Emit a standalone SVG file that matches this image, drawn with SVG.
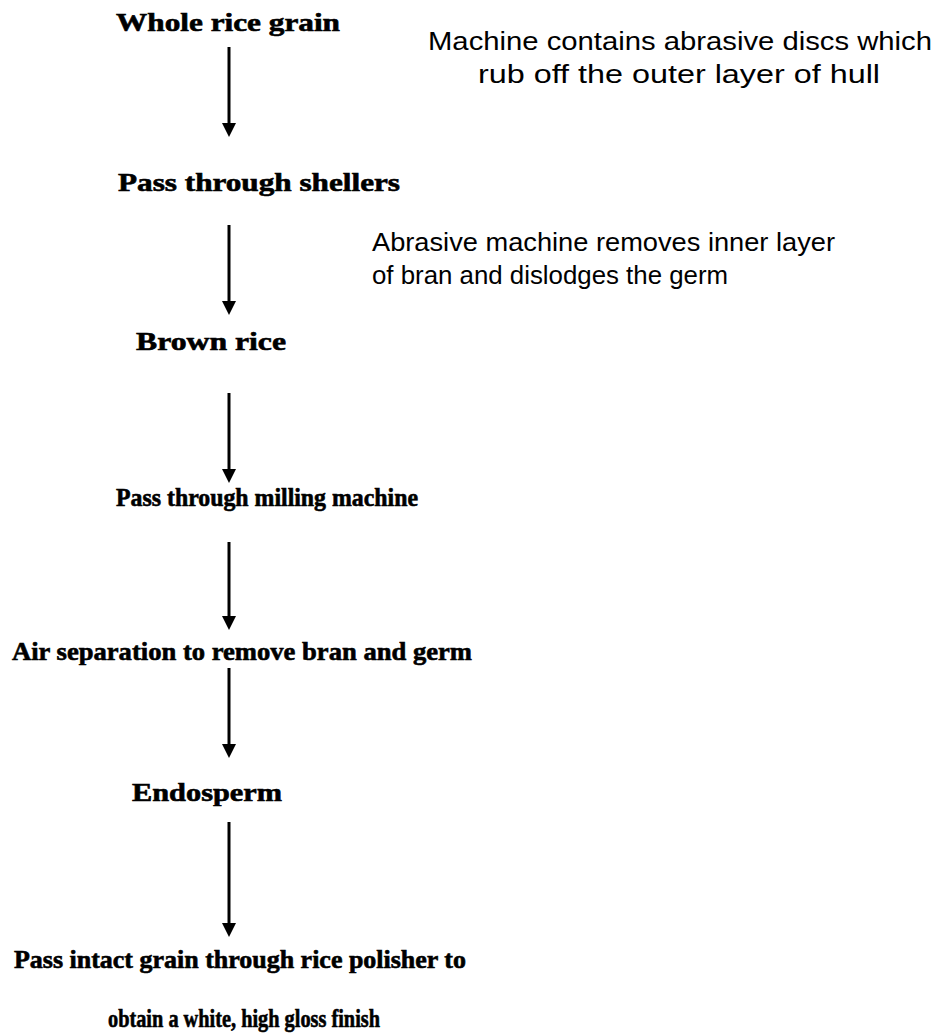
<svg xmlns="http://www.w3.org/2000/svg" width="944" height="1033" viewBox="0 0 944 1033">
<defs>
<style>
.step{font-family:"Liberation Serif","Times New Roman",serif;font-weight:bold;font-size:25px;fill:#000;stroke:#000;stroke-width:0.6}
.note{font-family:"Liberation Sans",Arial,sans-serif;font-size:25px;fill:#000}
.conn line{stroke:#000;stroke-width:3}
.conn path{fill:#000}
</style>
</defs>
<rect width="944" height="1033" fill="#fff"/>
<g id="n1"><text class="step" x="116" y="31" textLength="224" lengthAdjust="spacingAndGlyphs">Whole rice grain</text></g>
<g id="n2"><text class="step" x="118" y="191" textLength="282" lengthAdjust="spacingAndGlyphs">Pass through shellers</text></g>
<g id="n3"><text class="step" x="136" y="350" textLength="150" lengthAdjust="spacingAndGlyphs">Brown rice</text></g>
<g id="n4"><text class="step" x="116" y="506" textLength="302" lengthAdjust="spacingAndGlyphs">Pass through milling machine</text></g>
<g id="n5"><text class="step" x="12" y="660" textLength="460" lengthAdjust="spacingAndGlyphs">Air separation to remove bran and germ</text></g>
<g id="n6"><text class="step" x="132" y="801" textLength="150" lengthAdjust="spacingAndGlyphs">Endosperm</text></g>
<g id="n7"><text class="step" x="14" y="968" textLength="452" lengthAdjust="spacingAndGlyphs">Pass intact grain through rice polisher to</text>
<text class="step" x="108" y="1027" textLength="272" lengthAdjust="spacingAndGlyphs">obtain a white, high gloss finish</text></g>
<g id="a1"><text class="note" x="428" y="50" textLength="504" lengthAdjust="spacingAndGlyphs">Machine contains abrasive discs which</text>
<text class="note" x="478" y="83" textLength="402" lengthAdjust="spacingAndGlyphs">rub off the outer layer of hull</text></g>
<g id="a2"><text class="note" x="372" y="251" textLength="463" lengthAdjust="spacingAndGlyphs">Abrasive machine removes inner layer</text>
<text class="note" x="372" y="284" textLength="356" lengthAdjust="spacingAndGlyphs">of bran and dislodges the germ</text></g>
<g id="connectors" class="conn">
<line x1="229" y1="47" x2="229" y2="125"/><path d="M222,123 L236,123 L229,137 Z"/>
<line x1="229" y1="225" x2="229" y2="303"/><path d="M222,301 L236,301 L229,315 Z"/>
<line x1="229" y1="393" x2="229" y2="471"/><path d="M222,469 L236,469 L229,483 Z"/>
<line x1="229" y1="542" x2="229" y2="618"/><path d="M222,616 L236,616 L229,630 Z"/>
<line x1="229" y1="668" x2="229" y2="746"/><path d="M222,744 L236,744 L229,758 Z"/>
<line x1="229" y1="822" x2="229" y2="925"/><path d="M222,923 L236,923 L229,937 Z"/>
</g>
</svg>
